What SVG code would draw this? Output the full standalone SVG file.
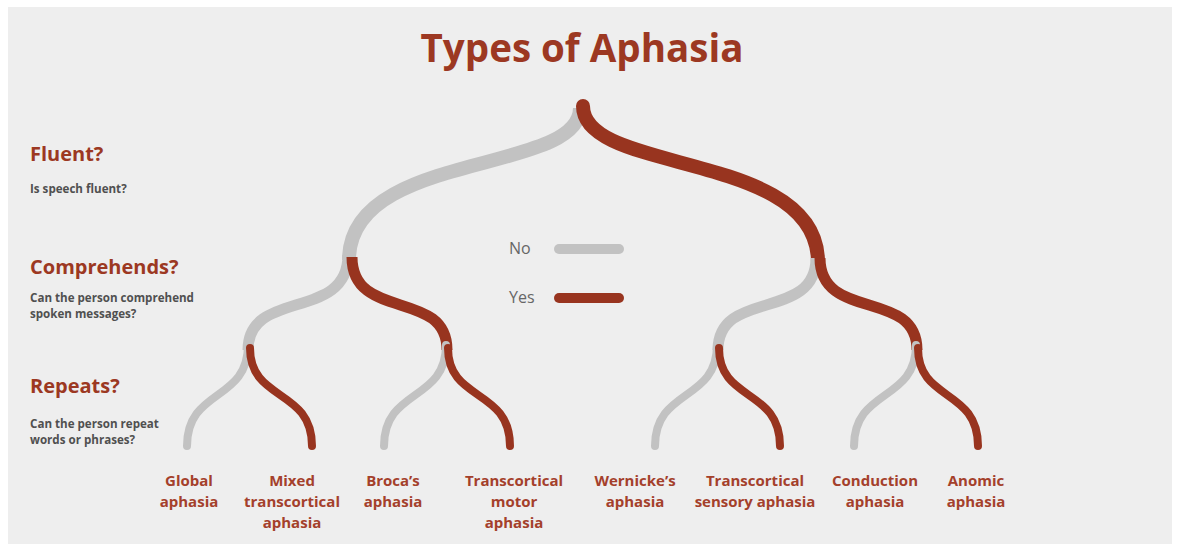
<svg xmlns="http://www.w3.org/2000/svg" width="1177" height="544" viewBox="0 0 1177 544">
<style>
.no{fill:none;stroke:#c2c2c2;}
.yes{fill:none;stroke:#98341f;}
.l1{stroke-width:14;}
.l2{stroke-width:11;}
.l3{stroke-width:8;stroke-linecap:round;}
.title{font-family:"Open Sans",sans-serif;font-weight:700;font-size:38.5px;fill:#9c3822;}
.q{font-family:"Open Sans",sans-serif;font-weight:700;font-size:20px;fill:#9c3822;}
.sub{font-family:"Open Sans",sans-serif;font-weight:700;font-size:11.6px;fill:#505050;}
.leaf{font-family:"Open Sans",sans-serif;font-weight:700;font-size:15px;fill:#a4402b;text-anchor:middle;}
.leg{font-family:"Open Sans",sans-serif;font-size:16px;fill:#666666;}
</style>
<rect x="0" y="0" width="1177" height="544" fill="#ffffff"/>
<rect x="8" y="7" width="1164" height="537" fill="#eeeeee"/>
<g id="title"><text class="title" x="582" y="62" text-anchor="middle">Types of Aphasia</text></g>
<g id="q-fluent"><text class="q" x="30" y="161">Fluent?</text><text class="sub" x="30" y="193">Is speech fluent?</text></g>
<g id="q-comprehends"><text class="q" x="30" y="274">Comprehends?</text><text class="sub" x="30" y="302">Can the person comprehend</text><text class="sub" x="30" y="318">spoken messages?</text></g>
<g id="q-repeats"><text class="q" x="30" y="393">Repeats?</text><text class="sub" x="30" y="428">Can the person repeat</text><text class="sub" x="30" y="444">words or phrases?</text></g>
<g id="legend">
<text class="leg" x="509" y="254">No</text>
<line x1="559" y1="249" x2="619" y2="249" stroke="#c2c2c2" stroke-width="10" stroke-linecap="round"/>
<text class="leg" x="509" y="303">Yes</text>
<line x1="559" y1="298" x2="619" y2="298" stroke="#98341f" stroke-width="10" stroke-linecap="round"/>
</g>
<g id="connectors">
<path class="no l1" d="M580,108 C580,175 349,150 349,260"/>
<path class="yes l1" d="M583,106 C583,175 818,150 818,262" stroke-linecap="round"/>
<path class="no l2" d="M348,255 C348,322 248,288 248,350"/>
<path class="yes l2" d="M352,257 C352,322 447,288 447,350"/>
<path class="no l2" d="M816,258 C816,322 718,288 718,350"/>
<path class="yes l2" d="M820,258 C820,322 917,288 917,350"/>
<path class="no l3" d="M248,345 C248,402 187,388 187,446"/>
<path class="yes l3" d="M250,348 C250,402 312,388 312,446"/>
<path class="no l3" d="M446,345 C446,402 384,388 384,446"/>
<path class="yes l3" d="M448,348 C448,402 510,388 510,446"/>
<path class="no l3" d="M717,345 C717,402 655,388 655,446"/>
<path class="yes l3" d="M719,348 C719,402 780,388 780,446"/>
<path class="no l3" d="M916,345 C916,402 854,388 854,446"/>
<path class="yes l3" d="M918,348 C918,402 978,388 978,446"/>
</g>
<g id="leaf-global"><text class="leaf" x="189" y="486">Global</text><text class="leaf" x="189" y="507">aphasia</text></g>
<g id="leaf-mixed"><text class="leaf" x="292" y="486">Mixed</text><text class="leaf" x="292" y="507">transcortical</text><text class="leaf" x="292" y="528">aphasia</text></g>
<g id="leaf-broca"><text class="leaf" x="393" y="486">Broca’s</text><text class="leaf" x="393" y="507">aphasia</text></g>
<g id="leaf-tcmotor"><text class="leaf" x="514" y="486">Transcortical</text><text class="leaf" x="514" y="507">motor</text><text class="leaf" x="514" y="528">aphasia</text></g>
<g id="leaf-wernicke"><text class="leaf" x="635" y="486">Wernicke’s</text><text class="leaf" x="635" y="507">aphasia</text></g>
<g id="leaf-tcsensory"><text class="leaf" x="755" y="486">Transcortical</text><text class="leaf" x="755" y="507">sensory aphasia</text></g>
<g id="leaf-conduction"><text class="leaf" x="875" y="486">Conduction</text><text class="leaf" x="875" y="507">aphasia</text></g>
<g id="leaf-anomic"><text class="leaf" x="976" y="486">Anomic</text><text class="leaf" x="976" y="507">aphasia</text></g>
</svg>
